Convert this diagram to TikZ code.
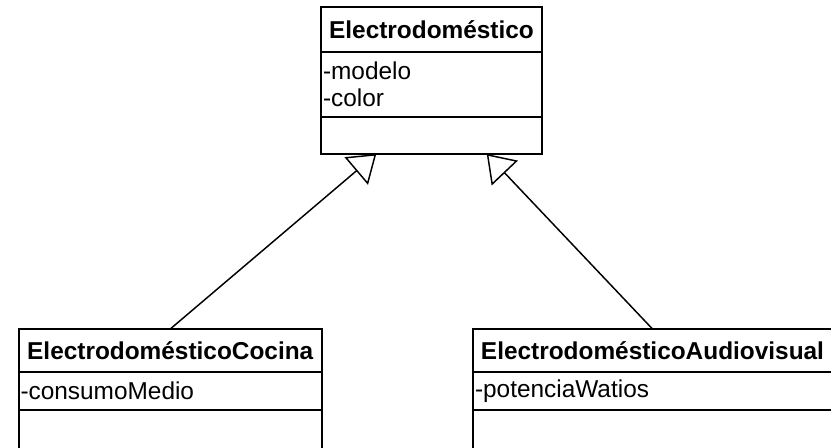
\documentclass[tikz,border=0pt]{standalone}
\usepackage{fontspec}
\setmainfont{Liberation Sans}
\usetikzlibrary{arrows.meta,calc}
\begin{document}
\begin{tikzpicture}[x=0.75pt,y=-0.75pt,
  comp/.style={draw,line width=1.5pt,rectangle,inner sep=0pt,outer sep=0pt},
  title/.style={comp,font=\fontsize{18.3}{20.4}\selectfont\bfseries},
  attr/.style={comp,font=\fontsize{18.3}{20.4}\selectfont,align=left,inner xsep=1.5pt},
  gen/.style={line width=1.1pt,-{Triangle[open,length=19.7pt,width=27pt]}}]
\useasboundingbox (0,0) rectangle (831,447);
\clip (0,0) rectangle (831,447);
% top class
\node[title, minimum width=165.75pt, minimum height=33.75pt] (tTitle) at (431.5,29.5) {Electrodoméstico};
\node[attr, minimum height=48.75pt, text width=162.75pt] (tAttr) at (431.5,84.5) {-modelo\\-color};
\node[comp, minimum width=165.75pt, minimum height=27.75pt] (tOps) at (431.5,135.5) {};
% left class
\node[title, minimum width=227.625pt, minimum height=32.25pt] (lTitle) at (170.25,350.5) {ElectrodomésticoCocina};
\node[attr, minimum height=28.5pt, text width=224.625pt] (lAttr) at (170.25,391) {-consumoMedio};
\node[comp, minimum width=227.625pt, minimum height=37.5pt] (lOps) at (170.25,435) {};
% right class
\node[title, minimum width=269.25pt, minimum height=32.25pt] (rTitle) at (652.5,350.5) {ElectrodomésticoAudiovisual};
\node[attr, minimum height=28.5pt, text width=266.25pt] (rAttr) at (652.5,391) {-potenciaWatios};
\node[comp, minimum width=269.25pt, minimum height=37.5pt] (rOps) at (652.5,435) {};
% generalizations
\draw[gen] (lTitle.north) -- ($(tOps.south west)!0.25!(tOps.south east)$);
\draw[gen] (rTitle.north) -- ($(tOps.south west)!0.75!(tOps.south east)$);
\end{tikzpicture}
\end{document}
